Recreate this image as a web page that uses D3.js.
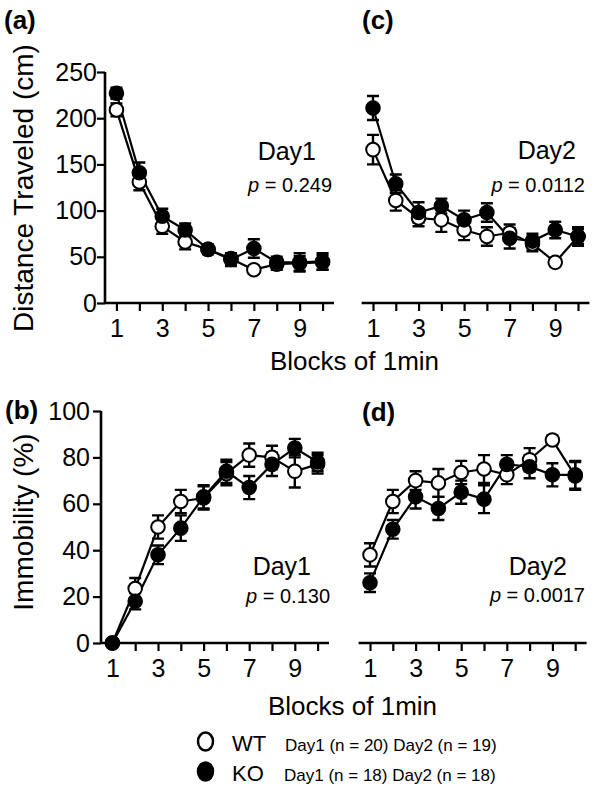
<!DOCTYPE html>
<html>
<head>
<meta charset="utf-8">
<script src="https://cdn.jsdelivr.net/npm/d3@7/dist/d3.min.js"></script>
<style>
  html, body { margin: 0; padding: 0; background: #fff; }
  svg { display: block; font-family: Arial, "Liberation Sans", Helvetica, sans-serif; }
</style>
</head>
<body>
<svg id="chart" width="600" height="786"></svg>
<script>
// ---------------- DATA ----------------
const blocks = [1, 2, 3, 4, 5, 6, 7, 8, 9, 10];
const xTickLabels = [1, 3, 5, 7, 9];
const distanceTicks = [0, 50, 100, 150, 200, 250];
const immobilityTicks = [0, 20, 40, 60, 80, 100];

// (a) Distance traveled, Day1
const distDay1WT    = [209, 131, 83, 66, 58, 48, 36, 42, 43, 44];
const distDay1WTErr = [7, 9, 8, 8, 5, 5, 4, 6, 8, 8];
const distDay1KO    = [227, 141, 94, 79, 58, 47, 59, 44, 44, 45];
const distDay1KOErr = [6, 11, 8, 7, 5, 7, 10, 6, 10, 9];

// (c) Distance traveled, Day2
const distDay2WT    = [166, 111, 92, 90, 79, 72, 76, 64, 44, 72];
const distDay2WTErr = [16, 11, 9, 13, 11, 10, 9, 8, 4, 8];
const distDay2KO    = [211, 129, 98, 105, 90, 98, 70, 67, 79, 72];
const distDay2KOErr = [13, 10, 11, 8, 10, 10, 11, 8, 9, 10];

// (b) Immobility, Day1
const immDay1WT    = [0, 23.5, 50, 61, 62.5, 73, 81, 80, 74, 77];
const immDay1WTErr = [0, 4.5, 5, 5, 5, 5, 5, 5, 7, 4];
const immDay1KO    = [0, 18, 38, 49.5, 63, 74, 67, 77, 84, 78];
const immDay1KOErr = [0, 3.5, 4, 5.5, 5, 5, 5, 5, 4, 4];

// (d) Immobility, Day2
const immDay2WT    = [38, 61, 70, 69, 73.5, 75, 72.5, 79, 87.5, 72];
const immDay2WTErr = [5, 5, 4, 6, 5, 6, 4, 5, 2, 6];
const immDay2KO    = [26, 49, 63, 58, 65, 62, 77, 76, 72.5, 72.5];
const immDay2KOErr = [4, 4, 5, 5, 5, 6, 4, 5, 5, 6];

const panelLabels = ["(a)", "(b)", "(c)", "(d)"];
const dayLabels = ["Day1", "Day1", "Day2", "Day2"];
const pValues = ["0.249", "0.130", "0.0112", "0.0017"];
const yTitles = ["Distance Traveled (cm)", "Immobility (%)"];
const xTitle = "Blocks of 1min";
const legendNames = ["WT", "KO"];
const legendNotes = ["Day1 (n = 20) Day2 (n = 19)", "Day1 (n = 18) Day2 (n = 18)"];

// ---------------- LAYOUT ----------------
const svg = d3.select("#chart");
const panels = [
  { label: panelLabels[0], day: dayLabels[0], p: pValues[0], wt: distDay1WT, wtE: distDay1WTErr, ko: distDay1KO, koE: distDay1KOErr,
    xr: [105, 334], yr: [303, 72], dom: [0, 250], ticks: distanceTicks, yAxis: true,
    lab: [4, 29], dayPos: [316, 160], pPos: [332, 192], tickPad: 0 },
  { label: panelLabels[2], day: dayLabels[2], p: pValues[2], wt: distDay2WT, wtE: distDay2WTErr, ko: distDay2KO, koE: distDay2KOErr,
    xr: [361.6, 589.4], yr: [303, 72], dom: [0, 250], ticks: distanceTicks, yAxis: false,
    lab: [362, 29], dayPos: [576, 159], pPos: [585, 192] },
  { label: panelLabels[1], day: dayLabels[1], p: pValues[1], wt: immDay1WT, wtE: immDay1WTErr, ko: immDay1KO, koE: immDay1KOErr,
    xr: [101, 329], yr: [643, 411], dom: [0, 100], ticks: immobilityTicks, yAxis: true,
    lab: [5, 419], dayPos: [311, 575], pPos: [330, 603], tickPad: 3 },
  { label: panelLabels[3], day: dayLabels[3], p: pValues[3], wt: immDay2WT, wtE: immDay2WTErr, ko: immDay2KO, koE: immDay2KOErr,
    xr: [358.6, 586.6], yr: [643, 411], dom: [0, 100], ticks: immobilityTicks, yAxis: false,
    lab: [362, 421], dayPos: [567, 575], pPos: [585, 602] }
];

panels.forEach(P => {
  const g = svg.append("g");
  const x = d3.scaleLinear().domain([0.5, 10.5]).range(P.xr);
  const y = d3.scaleLinear().domain(P.dom).range(P.yr);

  // x axis
  const xa = g.append("g").attr("transform", `translate(0,${P.yr[0]})`)
    .call(d3.axisBottom(x).tickValues(blocks).tickSize(8).tickPadding(8)
      .tickFormat(d => xTickLabels.includes(d) ? d : ""));
  xa.select(".domain").attr("d", `M${P.xr[0]},0H${P.xr[1]}`).attr("stroke-width", 2.6);
  xa.selectAll(".tick line").attr("stroke-width", 2.2);
  xa.selectAll(".tick text").attr("font-size", 25).attr("font-family", "Arial, 'Liberation Sans', sans-serif").attr("fill", "#000");

  if (P.yAxis) {
    const ya = g.append("g").attr("transform", `translate(${P.xr[0]},0)`)
      .call(d3.axisLeft(y).tickValues(P.ticks).tickSize(8).tickPadding(P.tickPad));
    ya.select(".domain").attr("d", `M0,${P.yr[0] + 1}V${P.yr[1]}`).attr("stroke-width", 2.6);
    ya.selectAll(".tick line").attr("stroke-width", 2.2);
    ya.selectAll(".tick text").attr("font-size", 25).attr("font-family", "Arial, 'Liberation Sans', sans-serif").attr("fill", "#000");
  }

  // series: WT first, KO on top
  const series = [
    { v: P.wt, e: P.wtE, fill: "#fff" },
    { v: P.ko, e: P.koE, fill: "#000" }
  ];
  const line = d3.line().x((d, i) => x(blocks[i])).y(d => y(d));
  series.forEach(S => {
    const eb = g.append("g").attr("stroke", "#000").attr("stroke-width", 2.4).attr("fill", "none");
    S.v.forEach((v, i) => {
      if (S.e[i] <= 0) return;
      const cx = x(blocks[i]);
      const y1 = y(v + S.e[i]), y2 = y(v - S.e[i]);
      eb.append("path").attr("d", `M${cx},${y1}V${y2}M${cx - 6},${y1}H${cx + 6}M${cx - 6},${y2}H${cx + 6}`);
    });
  });
  series.forEach(S => {
    g.append("path").datum(S.v).attr("d", line).attr("fill", "none").attr("stroke", "#000").attr("stroke-width", 2.2);
  });
  series.forEach(S => {
    g.append("g").selectAll("circle").data(S.v).join("circle")
      .attr("cx", (d, i) => x(blocks[i])).attr("cy", d => y(d)).attr("r", 6.8)
      .attr("fill", S.fill).attr("stroke", "#000").attr("stroke-width", 2);
  });

  // texts
  g.append("text").attr("x", P.lab[0]).attr("y", P.lab[1]).attr("font-size", 26).attr("font-weight", "bold").text(P.label);
  g.append("text").attr("x", P.dayPos[0]).attr("y", P.dayPos[1]).attr("text-anchor", "end").attr("font-size", 25).text(P.day);
  const pt = g.append("text").attr("x", P.pPos[0]).attr("y", P.pPos[1]).attr("text-anchor", "end").attr("font-size", 20);
  pt.append("tspan").attr("font-style", "italic").text("p");
  pt.append("tspan").text(" = " + P.p);
});

// y titles
svg.append("text").attr("transform", "translate(33,188) rotate(-90)").attr("text-anchor", "middle").attr("font-size", 28).text(yTitles[0]);
svg.append("text").attr("transform", "translate(33,522) rotate(-90)").attr("text-anchor", "middle").attr("font-size", 28).text(yTitles[1]);

// x titles
svg.append("text").attr("x", 270).attr("y", 370).attr("font-size", 26).text(xTitle);
svg.append("text").attr("x", 268).attr("y", 715).attr("font-size", 26).text(xTitle);

// legend
const legY = [741.5, 771.5];
legendNames.forEach((name, i) => {
  svg.append("ellipse").attr("cx", 205.5).attr("cy", legY[i]).attr("rx", 7.5).attr("ry", 9)
    .attr("fill", i === 0 ? "#fff" : "#000").attr("stroke", "#000").attr("stroke-width", 2.5);
  svg.append("text").attr("x", 232).attr("y", legY[i] + 9).attr("font-size", 22).text(name);
  svg.append("text").attr("x", i === 0 ? 285 : 284).attr("y", legY[i] + 9).attr("font-size", 17).text(legendNotes[i]);
});
</script>
</body>
</html>
